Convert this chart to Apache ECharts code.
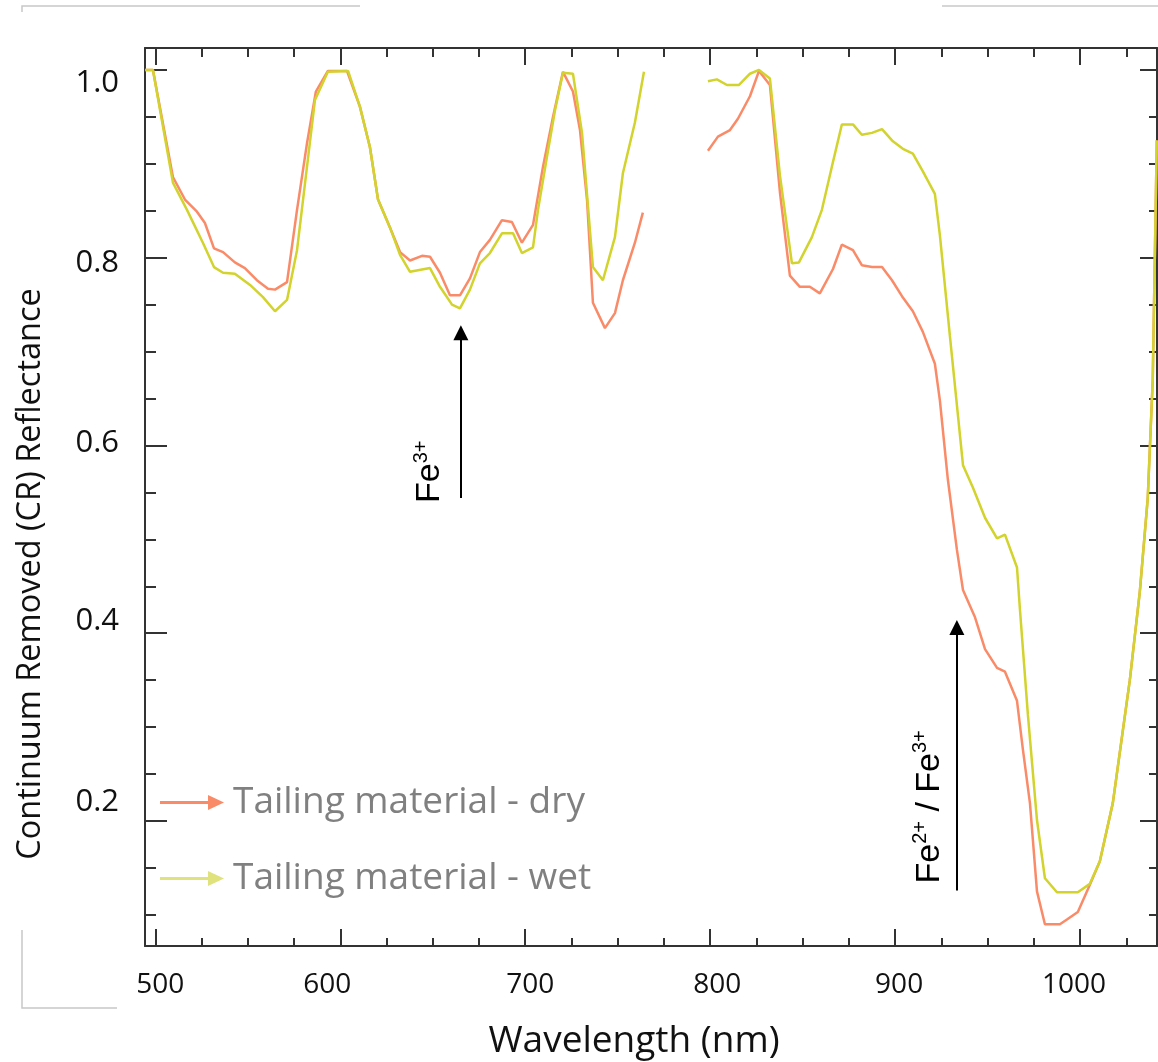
<!DOCTYPE html>
<html><head><meta charset="utf-8">
<script src="https://cdn.jsdelivr.net/npm/echarts@6/dist/echarts.min.js"></script>
<style>html,body{margin:0;padding:0;background:#fff}#c{width:1158px;height:1062px}</style>
</head><body><div id="c"></div>
<script>
// ---- data (wavelength in nm, continuum removed reflectance) ----
const dryWavelength = [494.5,498.7,509.5,516.0,522.5,526.8,531.7,536.6,543.0,548.4,554.9,560.9,564.7,571.2,576.6,582.0,586.8,593.3,603.6,610.6,616.0,620.4,626.9,632.3,637.7,644.2,648.5,653.9,659.3,664.7,670.1,675.5,680.9,687.4,692.8,698.2,704.2,709.6,715.0,720.4,725.8,729.6,733.4,736.6,743.1,748.5,752.8,759.3,763.6,
  780,
  798.8,804.2,810.7,815.0,821.5,826.4,832.3,837.7,843.1,848.5,853.9,859.3,866.4,871.2,877.2,882.0,887.5,892.9,898.3,903.7,909.6,915.0,921.5,924.2,928.5,933.4,936.7,943.2,948.6,955.1,959.4,965.9,969.1,972.9,976.7,981.0,989.1,992.9,998.8,1005.3,1010.7,1017.7,1026.9,1032.3,1036.6,1039.3,1041.5];
const dryReflectance = [1.000,1.000,0.886,0.862,0.849,0.837,0.810,0.806,0.795,0.789,0.776,0.767,0.766,0.774,0.851,0.922,0.977,0.999,0.999,0.961,0.918,0.862,0.832,0.806,0.797,0.802,0.801,0.784,0.760,0.760,0.778,0.806,0.819,0.840,0.838,0.816,0.835,0.897,0.950,0.998,0.977,0.936,0.862,0.752,0.725,0.741,0.776,0.816,0.848,
  null,
  0.914,0.929,0.936,0.948,0.972,0.999,0.984,0.870,0.781,0.769,0.769,0.762,0.788,0.814,0.808,0.792,0.790,0.790,0.776,0.759,0.743,0.721,0.687,0.648,0.564,0.489,0.446,0.417,0.383,0.363,0.359,0.328,0.276,0.219,0.125,0.090,0.090,0.095,0.103,0.132,0.157,0.219,0.350,0.444,0.544,0.670,0.925];
const wetWavelength = [494.5,498.7,509.5,517.1,525.7,531.7,536.6,543.0,551.2,558.2,564.7,571.2,576.6,582.0,586.3,593.3,604.2,610.6,616.0,620.4,626.9,632.3,637.7,648.5,653.9,660.4,664.7,670.1,675.5,680.9,687.4,693.4,698.2,704.2,706.9,711.7,716.1,720.4,725.8,730.7,736.6,742.0,748.5,752.8,759.3,764.2,
  780,
  798.8,803.6,809.1,815.6,821.5,826.4,832.3,837.7,844.2,848.0,855.0,860.4,865.8,871.2,877.2,882.0,887.5,892.9,898.8,904.2,909.6,915.0,921.5,924.2,929.6,936.7,942.1,948.6,955.1,959.4,965.9,967.5,971.8,976.7,981.0,987.5,998.8,1005.3,1010.7,1017.7,1026.9,1032.3,1036.6,1039.3,1041.5];
const wetReflectance = [1.000,1.000,0.880,0.851,0.816,0.790,0.784,0.783,0.771,0.758,0.743,0.755,0.808,0.897,0.968,0.998,0.999,0.961,0.918,0.862,0.832,0.803,0.785,0.789,0.769,0.750,0.746,0.766,0.794,0.805,0.826,0.826,0.805,0.811,0.851,0.907,0.957,0.997,0.996,0.933,0.790,0.776,0.822,0.890,0.944,0.998,
  null,
  0.988,0.990,0.984,0.984,0.996,1.000,0.991,0.888,0.794,0.795,0.822,0.851,0.897,0.942,0.942,0.931,0.933,0.937,0.924,0.916,0.911,0.892,0.868,0.824,0.717,0.579,0.555,0.523,0.501,0.505,0.470,0.425,0.313,0.201,0.139,0.124,0.124,0.133,0.157,0.219,0.350,0.444,0.544,0.670,0.925];

const seriesNames = ['Tailing material - dry', 'Tailing material - wet'];
const xMajorTicks = [500, 600, 700, 800, 900, 1000];
const xMinorTicks = [525,550,575,625,650,675,725,750,775,825,850,875,925,950,975,1025];
const yMajorTicks = [0.2, 0.4, 0.6, 0.8, 1.0];
const yMinorTicks = [0.10,0.15,0.25,0.30,0.35,0.45,0.50,0.55,0.65,0.70,0.75,0.85,0.90,0.95];
const xRange = [494.4, 1041.6];
const yRange = [0.0668, 1.0234];
// annotation arrows (wavelength, reflectance from -> to) and labels
const fe3Arrow = [665.2, 0.544, 0.720];
const fe23Arrow = [933.4, 0.126, 0.406];
const fe3Label = [648.5, 0.572];
const fe23Label = [918.8, 0.215];

// label placement nudges (the original figure's tick labels sit slightly off their ticks)
const xLabelPad = [[0,0,0,10],[0,26,0,0],[0,0,0,10],[0,0,0,14],[0,0,0,8],[0,12,0,0]];
const yLabelPad = [[0,0,38,0],[0,0,24,0],[0,0,4,0],[10,0,0,0],[27,0,0,0]];

const dryColor = '#F98B69';
const wetColor = '#D2D32C';
const axisColor = '#333';
const lblFont = { color: '#111', fontFamily: 'Open Sans' };

function pairs(xs, ys) { return xs.map((x, i) => [x, ys[i] === null ? '-' : ys[i]]); }

const xRich = {}; xLabelPad.forEach((p, i) => { xRich['x' + i] = Object.assign({ fontSize: 28, padding: p }, lblFont); });
const yRich = {}; yLabelPad.forEach((p, i) => { yRich['y' + i] = Object.assign({ fontSize: 31, padding: p }, lblFont); });

function xAxisDef(pos, ticks, len, withLabel, withLine) {
  const a = {
    type: 'value', position: pos, min: xRange[0], max: xRange[1],
    axisLine: { show: withLine, onZero: false, lineStyle: { color: axisColor, width: 2 } },
    axisTick: { show: true, inside: true, length: len, customValues: ticks, lineStyle: { color: axisColor, width: 2 } },
    axisLabel: { show: withLabel, customValues: ticks, fontSize: 28, color: '#111', margin: 25, fontFamily: 'Open Sans',
      formatter: v => { const i = xMajorTicks.indexOf(Math.round(v)); return i < 0 ? String(v) : '{x' + i + '|' + String(Math.round(v)) + '}'; },
      rich: xRich },
    splitLine: { show: false }
  };
  if (withLabel) {
    a.name = 'Wavelength (nm)';
    a.nameLocation = 'middle';
    a.nameGap = 77;
    a.nameTextStyle = { fontSize: 37, color: '#111', fontFamily: 'Open Sans', padding: [0, 34, 0, 0] };
  }
  return a;
}
function yAxisDef(pos, ticks, len, withLabel, withLine) {
  const a = {
    type: 'value', position: pos, min: yRange[0], max: yRange[1],
    axisLine: { show: withLine, onZero: false, lineStyle: { color: axisColor, width: 2 } },
    axisTick: { show: true, inside: true, length: len, customValues: ticks, lineStyle: { color: axisColor, width: 2 } },
    axisLabel: { show: withLabel, customValues: ticks, fontSize: 31, color: '#111', margin: 26, fontFamily: 'Open Sans',
      formatter: v => { const i = yMajorTicks.findIndex(t => Math.abs(t - v) < 1e-6); return i < 0 ? v.toFixed(1) : '{y' + i + '|' + v.toFixed(1) + '}'; },
      rich: yRich },
    splitLine: { show: false }
  };
  if (withLabel) {
    a.name = 'Continuum Removed (CR) Reflectance';
    a.nameLocation = 'middle';
    a.nameGap = 98;
    a.nameTextStyle = { fontSize: 32.5, color: '#111', fontFamily: 'Open Sans', padding: [0, 154, 0, 0] };
  }
  return a;
}

const arrowIcon = 'path://M0,6.5 H48 V0.5 L64,8 L48,15.5 V9.5 H0 Z';

const option = {
  animation: false,
  backgroundColor: '#fff',
  grid: { left: 145, right: 1, top: 48, bottom: 116, containLabel: false, outerBoundsMode: 'none' },
  xAxis: [
    xAxisDef('bottom', xMajorTicks, 17, true, true),
    xAxisDef('bottom', xMinorTicks, 8, false, false),
    xAxisDef('top', xMajorTicks, 17, false, true),
    xAxisDef('top', xMinorTicks, 9, false, false)
  ],
  yAxis: [
    yAxisDef('left', yMajorTicks, 22, true, true),
    yAxisDef('left', yMinorTicks, 11, false, false),
    yAxisDef('right', yMajorTicks, 17, false, true),
    yAxisDef('right', yMinorTicks, 8, false, false)
  ],
  legend: {
    orient: 'vertical', left: 160, top: 784, itemGap: 39, padding: 0,
    itemWidth: 64, itemHeight: 16, icon: arrowIcon,
    itemStyle: { borderWidth: 0 },
    textStyle: { fontSize: 37, color: '#808080', fontFamily: 'Open Sans', padding: [0, 0, 0, 4] },
    data: [
      { name: seriesNames[0], itemStyle: { color: dryColor } },
      { name: seriesNames[1], itemStyle: { color: '#E0E27E' } }
    ]
  },
  series: [
    {
      type: 'line', name: seriesNames[0], data: pairs(dryWavelength, dryReflectance),
      showSymbol: false, symbol: 'none', connectNulls: false,
      lineStyle: { color: dryColor, width: 2.5 }, itemStyle: { color: dryColor }, z: 3,
      markLine: {
        silent: true, symbol: ['none', 'triangle'], symbolSize: 15,
        lineStyle: { color: '#000', width: 2, type: 'solid' }, label: { show: false },
        data: [
          [{ coord: [fe3Arrow[0], fe3Arrow[1]] }, { coord: [fe3Arrow[0], fe3Arrow[2]] }],
          [{ coord: [fe23Arrow[0], fe23Arrow[1]] }, { coord: [fe23Arrow[0], fe23Arrow[2]] }]
        ]
      }
    },
    {
      type: 'line', name: seriesNames[1], data: pairs(wetWavelength, wetReflectance),
      showSymbol: false, symbol: 'none', connectNulls: false,
      lineStyle: { color: wetColor, width: 2.5 }, itemStyle: { color: wetColor }, z: 4
    }
  ]
};

const chart = echarts.init(document.getElementById('c'));
chart.setOption(option);

const rich = {
  n: { fontSize: 34, lineHeight: 38, fontFamily: 'Liberation Sans', color: '#000' },
  s: { fontSize: 20, lineHeight: 20, fontFamily: 'Liberation Sans', color: '#000', verticalAlign: 'top' }
};
const p1 = chart.convertToPixel({ gridIndex: 0 }, fe3Label);
const p2 = chart.convertToPixel({ gridIndex: 0 }, fe23Label);
const frame = { stroke: '#c8c8c8', lineWidth: 1.5 };
chart.setOption({
  graphic: [
    { type: 'text', x: p1[0], y: p1[1], rotation: Math.PI / 2,
      style: { text: '{n|Fe}{s|3+}', rich: rich, align: 'center', verticalAlign: 'middle' } },
    { type: 'text', x: p2[0], y: p2[1], rotation: Math.PI / 2,
      style: { text: '{n|Fe}{s|2+}{n| / Fe}{s|3+}', rich: rich, align: 'center', verticalAlign: 'middle' } },
    { type: 'polyline', shape: { points: [[22, 12], [22, 6], [360, 6]] }, style: frame, silent: true },
    { type: 'line', shape: { x1: 942, y1: 6, x2: 1158, y2: 6 }, style: frame, silent: true },
    { type: 'polyline', shape: { points: [[22, 930], [22, 1008], [117, 1008]] }, style: frame, silent: true }
  ]
});
</script>
</body></html>
